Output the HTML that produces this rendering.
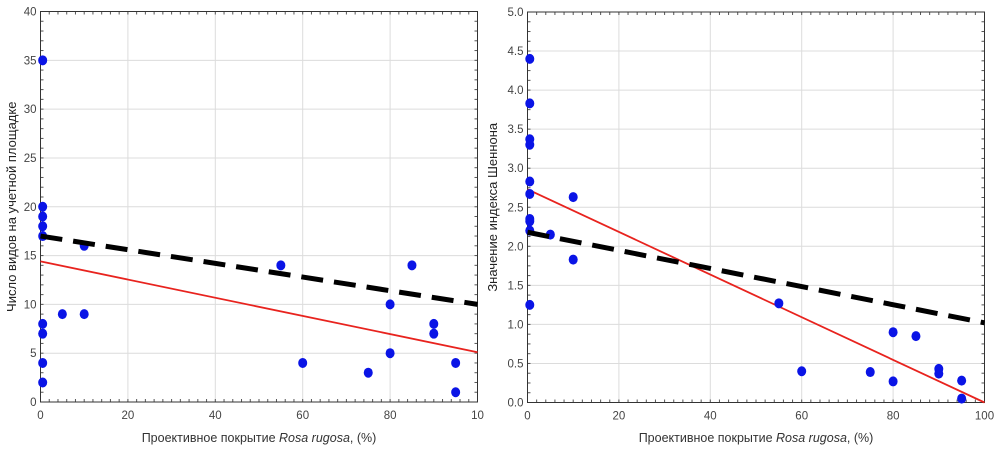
<!DOCTYPE html>
<html><head><meta charset="utf-8"><style>
html,body{margin:0;padding:0;background:#fff;width:998px;height:451px;overflow:hidden}
svg text{font-family:"Liberation Sans",sans-serif}
</style></head><body>
<svg id="s" width="998" height="451" xmlns="http://www.w3.org/2000/svg"></svg>
<script>
const leftX=[0.5,0.5,0.5,0.5,0.5,0.5,0.5,0.5,0.5,5,10,10,55,60,75,80,80,85,90,90,95,95];
const leftY=[35,20,19,18,17,8,7,4,2,9,16,9,14,4,3,10,5,14,8,7,4,1];
const leftDash=[17,10];
const leftRed=[14.4,5.1];
const leftYTicks=[0,5,10,15,20,25,30,35,40];
const rightX=[0.5,0.5,0.5,0.5,0.5,0.5,0.5,0.5,0.5,0.5,5,10,10,55,60,75,80,80,85,90,90,95,95];
const rightY=[4.4,3.83,3.37,3.3,2.83,2.67,2.35,2.32,2.2,1.25,2.15,2.63,1.83,1.27,0.4,0.39,0.9,0.27,0.85,0.43,0.37,0.28,0.05];
const rightDash=[2.18,1.02];
const rightRed=[2.73,0];
const rightYTicks=["0.0","0.5","1.0","1.5","2.0","2.5","3.0","3.5","4.0","4.5","5.0"];
const xTicks=[0,20,40,60,80,100];
const NS="http://www.w3.org/2000/svg";
const svg=document.getElementById('s');
function el(t,a,p){const e=document.createElementNS(NS,t);for(const k in a)e.setAttribute(k,a[k]);(p||svg).appendChild(e);return e;}
function chart(o){
  const g=el('g',{});
  
  
  const sx=v=>o.x0+(o.x1-o.x0)*v/100, sy=v=>o.y1-(o.y1-o.y0)*v/o.ymax;
  xTicks.forEach(t=>{
    const l=el('line',{x1:sx(t),x2:sx(t),y1:o.y0,y2:o.y1,stroke:'#dcdcdc','stroke-width':1},g);
    
    const tx=el('text',{x:sx(t),y:o.y1+17,'font-size':11.5,fill:'#444','text-anchor':'middle'},g);
    tx.textContent=(t===100&&o.clip)?'10':t;
    
  });
  o.yt.forEach(t=>{
    const v=parseFloat(t);
    const l=el('line',{x1:o.x0,x2:o.x1,y1:sy(v),y2:sy(v),stroke:'#dcdcdc','stroke-width':1},g);
    
    const tx=el('text',{x:o.x0-4,y:sy(v)+4,'font-size':11.5,fill:'#444','text-anchor':'end'},g);
    tx.textContent=t;
    
  });
  for(let i=0;i<=50;i++){const x=o.x0+(o.x1-o.x0)*i/50;el('line',{x1:x,x2:x,y1:o.y0,y2:o.y0+3,stroke:'#555'},g);el('line',{x1:x,x2:x,y1:o.y1,y2:o.y1-3,stroke:'#555'},g);}
  for(let i=0;i<=40;i++){const y=o.y0+(o.y1-o.y0)*i/40;el('line',{x1:o.x1,x2:o.x1-3,y1:y,y2:y,stroke:'#555'},g);el('line',{x1:o.x0,x2:o.x0+3,y1:y,y2:y,stroke:'#555'},g);}
  const fr=el('rect',{x:o.x0,y:o.y0,width:o.x1-o.x0,height:o.y1-o.y0,fill:'none',stroke:'#333','stroke-width':1},g);
  
  const r=el('line',{x1:sx(0),y1:sy(o.red[0]),x2:sx(100),y2:sy(o.red[1]),stroke:'#e8231e','stroke-width':1.8},g);
  
  o.xs.forEach((x,i)=>{
    const c=el('ellipse',{cx:sx(x),cy:sy(o.ys[i]),rx:4.5,ry:5,fill:'#0a14e6'},g);
    
  });
  const d=el('line',{x1:sx(0),y1:sy(o.dash[0]),x2:sx(100),y2:sy(o.dash[1]),stroke:'#000','stroke-width':5,'stroke-dasharray':'22 11'},g);
  
  const xt=el('text',{x:(o.x0+o.x1)/2,y:442,'font-size':12.5,fill:'#333','text-anchor':'middle'},g);
  xt.innerHTML='Проективное покрытие <tspan font-style="italic">Rosa rugosa</tspan>, (%)';
  
  const yt=el('text',{x:0,y:0,'font-size':13,fill:'#222','text-anchor':'middle',transform:`translate(${o.ytx},${(o.y0+o.y1)/2}) rotate(-90)`},g);
  yt.textContent=o.ytitle;
  
}
chart({name:'species-count-chart',x0:40.5,x1:477.5,y0:11.5,y1:402,ymax:40,xs:leftX,ys:leftY,dash:leftDash,red:leftRed,yt:leftYTicks.map(String),ytitle:'Число видов на учетной площадке',ytx:16,clip:true});
chart({name:'shannon-index-chart',x0:527.5,x1:984.5,y0:12,y1:402.5,ymax:5,xs:rightX,ys:rightY,dash:rightDash,red:rightRed,yt:rightYTicks,ytitle:'Значение индекса Шеннона',ytx:497,clip:false});
</script>
</body></html>
